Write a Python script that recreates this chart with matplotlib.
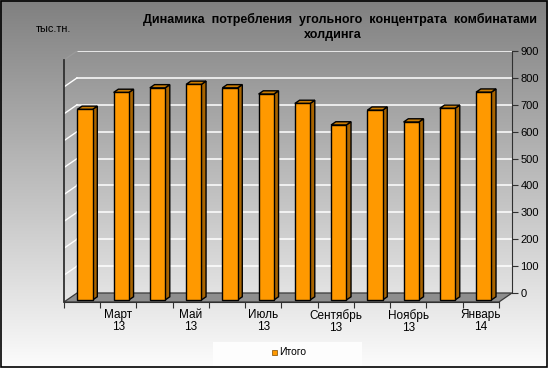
import numpy as np
import matplotlib
matplotlib.use("Agg")
import matplotlib.pyplot as plt
from matplotlib.patches import Polygon, Rectangle

plt.rcParams['font.family'] = ['Liberation Sans', 'DejaVu Sans']

# ---- data ----
months = ['Февраль 13', 'Март 13', 'Апрель 13', 'Май 13', 'Июнь 13', 'Июль 13',
          'Август 13', 'Сентябрь 13', 'Октябрь 13', 'Ноябрь 13', 'Декабрь 13', 'Январь 14']
values = [709, 772, 789, 802, 789, 766, 731, 651, 706, 662, 713, 773]
tick_labels = ['Март\n13', 'Май\n13', 'Июль\n13', 'Сентябрь\n13', 'Ноябрь\n13', 'Январь\n14']
tick_idx = [1, 3, 5, 7, 9, 11]
yticks = [0, 100, 200, 300, 400, 500, 600, 700, 800, 900]
series_name = 'Итого'
title_lines = ['Динамика  потребления  угольного  концентрата  комбинатами', 'холдинга']
unit = 'тыс.тн.'

# ---- style / geometry ----
W, H = 548, 368
DX, DY = 0.36, 33.5       # oblique depth offset (data units)
ZF, ZB = 0.22, 0.58       # bar front / back depth
BW = 0.42                 # bar width
FRONT = '#ff9900'
SIDE = '#a86400'
TOP = '#cc7c00'

fig = plt.figure(figsize=(W / 100, H / 100), dpi=100)

# background gradient
bg = fig.add_axes([0, 0, 1, 1], zorder=-10)
grad = np.linspace(0, 1, 256).reshape(-1, 1)
c_top = np.array([0x80, 0x80, 0x80]) / 255
c_bot = np.array([0xfc, 0xfc, 0xfc]) / 255
img = c_top[None, None, :] * (1 - grad[:, :, None]) + c_bot[None, None, :] * grad[:, :, None]
bg.imshow(img, aspect='auto', extent=[0, 1, 0, 1], origin='upper')
bg.set_xlim(0, 1); bg.set_ylim(0, 1)
bg.axis('off')
# legend box
bg.add_patch(Rectangle((213 / W, 0), 149 / W, 26 / H, facecolor='#fdfdfd', edgecolor='none'))
# outer border
bg.add_patch(Rectangle((0.0012, 0.0018), 0.9975, 0.996, facecolor='none', edgecolor='black', lw=1.2))

n = len(values)
left_px, right_px, bot_px, top_px = 64, 512, 302, 51
ax = fig.add_axes([left_px / W, 1 - bot_px / H, (right_px - left_px) / W, (bot_px - top_px) / H])
ax.patch.set_alpha(0)
ax.set_xlim(0, n + DX)
ax.set_ylim(-DY, max(yticks))

def proj(x, v, z):
    return x + DX * z, v - DY * (1 - z)

# back-wall gridlines and left-wall diagonals
for v in yticks[1:]:
    x0, y0 = proj(0, v, 1)
    x1, y1 = proj(n, v, 1)
    ax.plot([x0, x1], [y0, y1], color='white', lw=1.1, zorder=1)
    xa, ya = proj(0, v, 0)
    ax.plot([xa, x0], [ya, y0], color='white' if v < max(yticks) else '#9a9a9a', lw=1.0, zorder=1)

# floor
floor = [proj(0, 0, 0), proj(n, 0, 0), proj(n, 0, 1), proj(0, 0, 1)]
ax.add_patch(Polygon(floor, closed=True, facecolor='#8e8e8e', edgecolor='#3a3a3a', lw=0.9, zorder=2))

# bars
centers = np.arange(n) + 0.5
fx, fy0 = proj(centers - BW / 2, 0, ZF)
ax.bar(fx, values, bottom=fy0, width=BW, align='edge', color=FRONT, edgecolor='black', lw=1.0, zorder=4)
for c, v in zip(centers, values):
    xr = c + BW / 2
    xl = c - BW / 2
    side = [proj(xr, 0, ZF), proj(xr, 0, ZB), proj(xr, v, ZB), proj(xr, v, ZF)]
    top = [proj(xl, v, ZF), proj(xr, v, ZF), proj(xr, v, ZB), proj(xl, v, ZB)]
    ax.add_patch(Polygon(side, closed=True, facecolor=SIDE, edgecolor='black', lw=1.0, zorder=3))
    ax.add_patch(Polygon(top, closed=True, facecolor=TOP, edgecolor='black', lw=1.0, zorder=3))

# spines
ax.spines['top'].set_visible(False)
ax.spines['left'].set_bounds(-DY, max(yticks) - DY)
ax.spines['left'].set_color('#303030')
ax.spines['left'].set_linewidth(1.3)
ax.spines['bottom'].set_bounds(0, n)
ax.spines['bottom'].set_color('#303030')
ax.spines['right'].set_bounds(0, max(yticks))
ax.spines['right'].set_color('#303030')

ax.yaxis.tick_right()
ax.set_yticks(yticks)
ax.set_yticklabels([str(t) for t in yticks])
ax.tick_params(axis='y', direction='out', length=4, width=0.8, color='#303030',
               labelsize=8, pad=2)

ax.set_xticks(np.arange(n + 1))
ax.set_xticklabels([''] * (n + 1))
ax.set_xticks([i + 0.5 for i in tick_idx], minor=True)
ax.set_xticklabels(tick_labels, minor=True, fontsize=8.5, linespacing=1.05)
ax.tick_params(axis='x', which='major', direction='out', length=4, width=0.8, color='#303030')
ax.tick_params(axis='x', which='minor', length=0, pad=5)

# texts
fig.text(340 / W, 1 - 19 / H, title_lines[0], ha='center', va='center', fontsize=9, fontweight='bold')
fig.text(333 / W, 1 - 35 / H, title_lines[1], ha='center', va='center', fontsize=9, fontweight='bold')
fig.text(36 / W, 1 - 29 / H, unit, ha='left', va='center', fontsize=7.8)

# legend
fig.patches.append(Rectangle((272 / W, 1 - 355 / H), 5 / W, 5 / H, transform=fig.transFigure,
                             facecolor=FRONT, edgecolor='#7a4a00', lw=0.5))
fig.text(279 / W, 1 - 352 / H, series_name, ha='left', va='center', fontsize=7.5)

fig.savefig('out.png', dpi=100)
